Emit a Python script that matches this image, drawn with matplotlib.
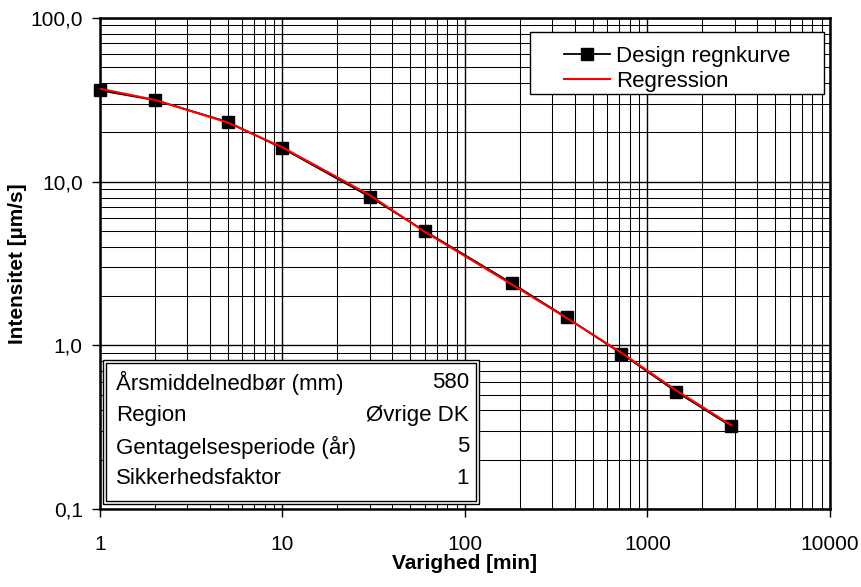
import numpy as np
import matplotlib
matplotlib.use("Agg")
import matplotlib.pyplot as plt
from matplotlib.ticker import FixedLocator, FixedFormatter, LogLocator, NullFormatter

plt.rcParams['font.family'] = ['Liberation Sans', 'DejaVu Sans']

# data
varighed = [1, 2, 5, 10, 30, 60, 180, 360, 720, 1440, 2880]
design = [36.1, 31.5, 23.2, 16.0, 8.1, 5.0, 2.4, 1.48, 0.89, 0.52, 0.32]
regression = [37.0, 31.6, 23.0, 16.2, 8.3, 4.95, 2.36, 1.47, 0.90, 0.53, 0.325]

info_labels = ["Årsmiddelnedbør (mm)", "Region", "Gentagelsesperiode (år)", "Sikkerhedsfaktor"]
info_values = ["580", "Øvrige DK", "5", "1"]

y_ticks = [0.1, 1, 10, 100]
y_ticklabels = ["0,1", "1,0", "10,0", "100,0"]
x_ticks = [1, 10, 100, 1000, 10000]
x_ticklabels = ["1", "10", "100", "1000", "10000"]

W, H = 862, 587
fig = plt.figure(figsize=(W/100, H/100), dpi=100)
ax = fig.add_axes([100/W, 1 - 509/H, 730/W, 491/H])

ax.set_xscale('log')
ax.set_yscale('log')
ax.set_xlim(1, 10000)
ax.set_ylim(0.1, 100)

ax.plot(varighed, design, color='black', lw=1.3, marker='s', ms=9,
        mfc='black', mec='black', label='Design regnkurve', zorder=4, clip_on=False)
ax.plot(varighed, regression, color='red', lw=1.5, label='Regression', zorder=5)

ax.xaxis.set_major_locator(FixedLocator(x_ticks))
ax.xaxis.set_major_formatter(FixedFormatter(x_ticklabels))
ax.yaxis.set_major_locator(FixedLocator(y_ticks))
ax.yaxis.set_major_formatter(FixedFormatter(y_ticklabels))
ax.xaxis.set_minor_locator(LogLocator(base=10, subs=np.arange(2, 10)))
ax.yaxis.set_minor_locator(LogLocator(base=10, subs=np.arange(2, 10)))
ax.xaxis.set_minor_formatter(NullFormatter())
ax.yaxis.set_minor_formatter(NullFormatter())

ax.grid(True, which='major', color='black', lw=1.0)
ax.grid(True, which='minor', color='black', lw=0.75)
ax.set_axisbelow(True)
ax.tick_params(which='major', direction='out', length=5.5, width=1, labelsize=15)
ax.tick_params(axis='x', pad=13)
ax.tick_params(axis='y', pad=7)
ax.tick_params(which='minor', length=0)
for s in ax.spines.values():
    s.set_linewidth(1.8)

ax.set_xlabel('Varighed [min]', fontsize=15, fontweight='bold', labelpad=0.5)
ax.set_ylabel('Intensitet [µm/s]', fontsize=15, fontweight='bold', labelpad=2)

# legend: frame drawn by hand so the wide side padding can match
lbox = plt.Rectangle((530/W, 1 - 94/H), 294/W, 62/H, transform=fig.transFigure,
                     facecolor='white', edgecolor='black', lw=1.0, zorder=6)
ax.add_artist(lbox)
leg = ax.legend(loc='upper left', bbox_to_anchor=(548/W, 1 - 30/H),
                bbox_transform=fig.transFigure, fontsize=16, frameon=False,
                handlelength=2.1, handletextpad=0.25, borderpad=0.2, labelspacing=0.2)
leg.set_zorder(7)

# info box in the lower left, double border
for (x0, y0, x1, y1, lw) in [(103, 360, 479, 504, 1.0), (106, 363, 476, 501, 1.0)]:
    r = plt.Rectangle((x0/W, 1 - y1/H), (x1 - x0)/W, (y1 - y0)/H, transform=fig.transFigure,
                      facecolor='white', edgecolor='black', lw=lw, zorder=10)
    fig.add_artist(r)
row_y = [383, 415, 447, 478]
for lab, val, yy in zip(info_labels, info_values, row_y):
    fig.text(116/W, 1 - yy/H, lab, fontsize=16, va='center', ha='left', zorder=11)
    fig.text(469/W, 1 - yy/H, val, fontsize=16, va='center', ha='right', zorder=11)

fig.savefig('out.png', dpi=100)
